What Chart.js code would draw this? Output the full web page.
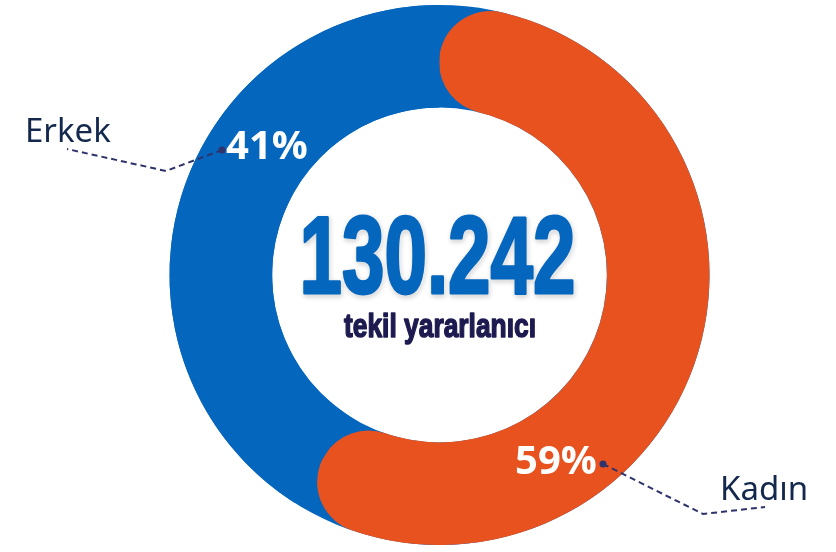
<!DOCTYPE html>
<html>
<head>
<meta charset="utf-8">
<script src="https://cdn.jsdelivr.net/npm/chart.js@4/dist/chart.umd.min.js"></script>
<style>
  html, body { margin: 0; padding: 0; background: #ffffff; }
  #wrap { width: 836px; height: 552px; }
</style>
</head>
<body>
<div id="wrap"><canvas id="c" width="836" height="552"></canvas></div>
<script>
// ---- data ----
const categories = ['Kadın', 'Erkek'];
const values = [59, 41];
const percentLabels = ['59%', '41%'];
const centerValue = '130.242';
const centerCaption = 'tekil yararlanıcı';

// ---- style ----
const ORANGE = '#E8521F';
const BLUE = '#0566BE';
const NAVY_TEXT = '#13284C';
const LINE = '#2E336B';

// callout geometry, relative to the doughnut centre
const callouts = [
  { // Kadın
    label: { dx: 116.5, dy: 188 },
    line: [[163.5, 189], [263.5, 239], [325.5, 232]],
    name: { dx: 280.5, dy: 225 }
  },
  { // Erkek
    label: { dx: -172.5, dy: -127 },
    line: [[-217.5, -125], [-273.5, -104], [-372.5, -126]],
    name: { dx: -414.5, dy: -133 }
  }
];

const ringBackground = {
  id: 'ringBackground',
  beforeDatasetsDraw(chart) {
    const arc = chart.getDatasetMeta(0).data[0];
    if (!arc) return;
    const { x, y, innerRadius, outerRadius } = arc.getProps(['x', 'y', 'innerRadius', 'outerRadius'], true);
    const ctx = chart.ctx;
    ctx.save();
    ctx.beginPath();
    ctx.arc(x, y, outerRadius, 0, Math.PI * 2);
    ctx.arc(x, y, innerRadius, 0, Math.PI * 2, true);
    ctx.fillStyle = BLUE;
    ctx.fill('evenodd');
    ctx.restore();
  }
};

const overlay = {
  id: 'overlay',
  afterDatasetsDraw(chart) {
    const arc = chart.getDatasetMeta(0).data[0];
    if (!arc) return;
    const { x, y } = arc.getProps(['x', 'y'], true);
    const ctx = chart.ctx;
    ctx.save();

    // centre number
    ctx.textAlign = 'center';
    ctx.textBaseline = 'alphabetic';
    ctx.font = 'bold 110px "Liberation Sans"';
    let w = ctx.measureText(centerValue).width;
    ctx.save();
    ctx.translate(x - 2, y + 18);
    ctx.scale(276 / w, 1);
    ctx.shadowColor = 'rgba(0,0,0,0.28)';
    ctx.shadowBlur = 5;
    ctx.shadowOffsetX = 1;
    ctx.shadowOffsetY = 2;
    ctx.fillStyle = BLUE;
    ctx.strokeStyle = BLUE;
    ctx.lineWidth = 3;
    ctx.lineJoin = 'round';
    ctx.strokeText(centerValue, 0, 0);
    ctx.shadowColor = 'transparent';
    ctx.fillText(centerValue, 0, 0);
    ctx.restore();

    // caption
    ctx.font = 'bold 34px "Liberation Sans"';
    w = ctx.measureText(centerCaption).width;
    ctx.save();
    ctx.translate(x + 0.5, y + 62);
    ctx.scale(192 / w, 1);
    ctx.fillStyle = '#1C1A4F';
    ctx.strokeStyle = '#1C1A4F';
    ctx.lineWidth = 1.5;
    ctx.lineJoin = 'round';
    ctx.strokeText(centerCaption, 0, 0);
    ctx.fillText(centerCaption, 0, 0);
    ctx.restore();

    // callouts
    callouts.forEach((c, i) => {
      // leader line
      ctx.beginPath();
      ctx.setLineDash([6, 4]);
      ctx.strokeStyle = LINE;
      ctx.lineWidth = 2;
      c.line.forEach((p, k) => {
        if (k === 0) ctx.moveTo(x + p[0], y + p[1]);
        else ctx.lineTo(x + p[0], y + p[1]);
      });
      ctx.stroke();
      ctx.setLineDash([]);
      ctx.beginPath();
      ctx.arc(x + c.line[0][0], y + c.line[0][1], 3.5, 0, Math.PI * 2);
      ctx.fillStyle = LINE;
      ctx.fill();

      // percentage
      ctx.font = 'bold 40px "Open Sans"';
      ctx.textAlign = 'center';
      ctx.textBaseline = 'middle';
      ctx.fillStyle = '#FFFFFF';
      ctx.fillText(percentLabels[i], x + c.label.dx, y + c.label.dy);

      // category name
      ctx.font = '33px "Noto Sans"';
      ctx.textAlign = 'left';
      ctx.textBaseline = 'alphabetic';
      ctx.fillStyle = NAVY_TEXT;
      ctx.fillText(categories[i], x + c.name.dx, y + c.name.dy);
    });
    ctx.restore();
  }
};

new Chart(document.getElementById('c'), {
  type: 'doughnut',
  data: {
    labels: categories,
    datasets: [{
      data: values,
      backgroundColor: [ORANGE, BLUE],
      borderWidth: 0,
      borderRadius: (ctx) => ctx.dataIndex === 0 ? 60 : 0
    }]
  },
  options: {
    responsive: false,
    animation: false,
    cutout: '62%',
    rotation: 0,
    layout: { padding: { left: 43, right: 0, top: 5, bottom: 7 } },
    plugins: {
      legend: { display: false },
      tooltip: { enabled: false }
    }
  },
  plugins: [ringBackground, overlay]
});
</script>
</body>
</html>
